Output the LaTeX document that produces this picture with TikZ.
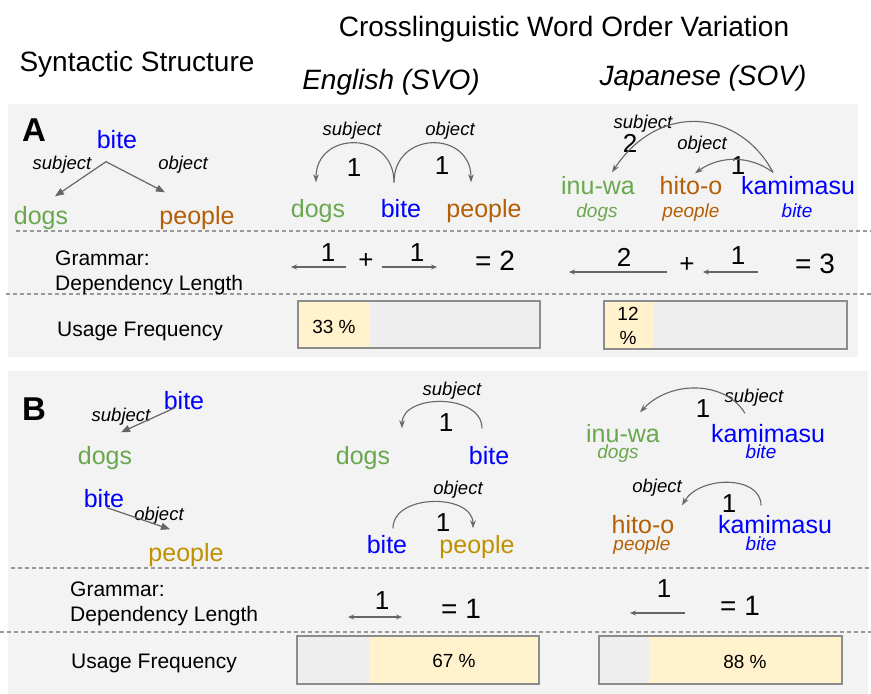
\documentclass[tikz,border=0pt]{standalone}
\usepackage{fontspec}
\setmainfont{Liberation Sans}
\usetikzlibrary{arrows.meta,calc}
\definecolor{panelbg}{HTML}{F3F3F3}
\definecolor{wgreen}{HTML}{6AA84F}
\definecolor{worange}{HTML}{B45F06}
\definecolor{wgold}{HTML}{BF9000}
\definecolor{wblue}{HTML}{0000FF}
\definecolor{arrowgray}{HTML}{666666}
\definecolor{sepgray}{HTML}{999999}
\definecolor{bargray}{HTML}{8C8C8C}
\definecolor{barfill}{HTML}{EEEEEE}
\definecolor{baryellow}{HTML}{FFF2CC}
\newcommand\myfs[1]{\fontsize{#1pt}{#1pt}\selectfont}
\tikzset{
 w/.style={inner sep=0pt, text height=21pt, text depth=2pt, font=\myfs{25}},
 gl/.style={inner sep=0pt, text height=16.7pt, text depth=1pt, font=\myfs{19}\itshape},
 lab/.style={inner sep=0pt, text height=16.3pt, text depth=0.9pt, font=\myfs{18.5}\itshape},
 num/.style={inner sep=0pt, text height=18.7pt, text depth=0pt, font=\myfs{26}},
 eq/.style={inner sep=0pt, text height=20pt, text depth=0pt, font=\myfs{28}},
 ttl/.style={inner sep=0pt, text height=22pt, text depth=4pt, font=\myfs{28}},
 side/.style={inner sep=0pt, anchor=west, align=left, yshift=-3pt, font=\fontsize{21pt}{25.5pt}\selectfont},
 pct/.style={inner sep=0pt, align=center, yshift=-1pt, font=\fontsize{19pt}{24pt}\selectfont},
 panlab/.style={inner sep=0pt, text height=24pt, text depth=0pt, font=\myfs{33}\bfseries},
 tree/.style={draw=arrowgray, line width=1.2pt, -{Triangle[length=9pt,width=7pt]}},
 arc/.style={draw=arrowgray, line width=1.1pt, -{Stealth[length=8pt,width=5.5pt]}},
 dep/.style={draw=arrowgray, line width=1.1pt, -{Stealth[length=6pt,width=5pt]}},
 sep/.style={draw=sepgray, line width=1.2pt, dash pattern=on 4pt off 3pt},
 barbox/.style={draw=bargray, line width=1.2pt},
}
\begin{document}
\begin{tikzpicture}[x=1pt,y=-1pt]
\useasboundingbox (0,0) rectangle (871,694);
\fill[white] (0,0) rectangle (871,694);
% titles
\node[ttl] (tTitle) at (564,27) {Crosslinguistic Word Order Variation};
\node[ttl] (tSyn) at (137,62) {Syntactic Structure};
\node[ttl, font=\myfs{28}\itshape] (tEng) at (391,80) {English (SVO)};
\node[ttl, font=\myfs{28}\itshape] (tJap) at (703,76) {Japanese (SOV)};
% panels
\fill[panelbg] (8,104) rectangle (858,357);
\fill[panelbg] (8,371) rectangle (868,694);
\draw[sep] (16,231) -- (871,231);
\draw[sep] (6,294) -- (871,294);
\draw[sep] (11,568) -- (871,568);
\draw[sep] (0,632) -- (871,632);

% ================= Panel A =================
\node[panlab] (labA) at (34,129) {A};
\node[w, text=wblue] (aBite) at (117,139) {bite};
\node[w, text=wgreen] (aDogs) at (41,215) {dogs};
\node[w, text=worange] (aPeople) at (197,215) {people};
\node[lab] (aSubj) at (62,162) {subject};
\node[lab] (aObj) at (183,162) {object};
\draw[tree] ($(aBite.south)+(-11,11)$) -- ($(aDogs.north)+(14,-7)$);
\draw[tree] ($(aBite.south)+(-11,11)$) -- ($(aPeople.north)+(-32,-11)$);

% English A
\node[w, text=wgreen] (eDogs) at (318,208) {dogs};
\node[w, text=wblue] (eBite) at (401,208) {bite};
\node[w, text=worange] (ePeople) at (484,208) {people};
\node[lab] (eSubj) at (352,128) {subject};
\node[lab] (eObj) at (450,128) {object};
\node[num] (eN1) at (354,167) {1};
\node[num] (eN2) at (442,165) {1};
\draw[arc] ($(eBite.north)+(-7,-14)$) .. controls +(0,-52) and +(0,-52) .. ($(eDogs.north)+(-2,-14)$);
\draw[arc] ($(eBite.north)+(-7,-14)$) .. controls +(0,-52) and +(0,-52) .. ($(ePeople.north)+(-13,-14)$);

% Japanese A
\node[w, text=wgreen] (jInu) at (598,185) {inu-wa};
\node[gl, text=wgreen] (jInuG) at (597,210) {dogs};
\node[w, text=worange] (jHito) at (691,185) {hito-o};
\node[gl, text=worange] (jHitoG) at (691,210) {people};
\node[w, text=wblue] (jKami) at (798,185) {kamimasu};
\node[gl, text=wblue] (jKamiG) at (797,210) {bite};
\node[lab] (jSubj) at (643,121) {subject};
\node[num] (jN2) at (630,143) {2};
\node[lab] (jObj) at (702,142) {object};
\node[num] (jN1) at (738,165) {1};
\draw[arc] ($(jKami.north)+(-25,-1)$) .. controls +(-33,-62) and +(48,-72) .. ($(jInu.north)+(14,-1)$);
\draw[arc] ($(jKami.north)+(-25,-1)$) .. controls +(-23,-17) and +(25,-18) .. ($(jHito.north)+(4,0)$);

% Grammar row A
\node[side] (aGram) at (55,270) {Grammar:\\Dependency Length};
\coordinate (dAe1s) at (346,267); \coordinate (dAe1e) at (291,267);
\coordinate (dAe2s) at (382,267); \coordinate (dAe2e) at (437,267);
\draw[dep] (dAe1s) -- (dAe1e);
\draw[dep] (dAe2s) -- (dAe2e);
\node[num] (dAeN1) at (328,252) {1};
\node[num] (dAePlus) at (366,259) {+};
\node[num] (dAeN2) at (417,252) {1};
\node[eq] (dAeEq) at (495,260) {= 2};
\coordinate (dAj1s) at (667,272); \coordinate (dAj1e) at (569,272);
\coordinate (dAj2s) at (758,272); \coordinate (dAj2e) at (703,272);
\draw[dep] (dAj1s) -- (dAj1e);
\draw[dep] (dAj2s) -- (dAj2e);
\node[num] (dAjN1) at (624,257) {2};
\node[num] (dAjPlus) at (687,263) {+};
\node[num] (dAjN2) at (738,255) {1};
\node[eq] (dAjEq) at (815,263) {= 3};

% Usage row A
\node[side] (aUsage) at (57,328) {Usage Frequency};
\fill[barfill] (298,301) rectangle (540,348);
\fill[baryellow] (298,301) rectangle (370,348);
\draw[barbox] (298,301) rectangle (540,348);
\node[pct] (pAe) at (334,326) {33 \%};
\fill[barfill] (604,301) rectangle (847,349);
\fill[baryellow] (604,301) rectangle (653,349);
\draw[barbox] (604,301) rectangle (847,349);
\node[pct] (pAj) at (628,325) {12\\\%};

% ================= Panel B =================
\node[panlab] (labB) at (34,408) {B};
\node[w, text=wblue] (bBite1) at (184,400) {bite};
\node[w, text=wgreen] (bDogs) at (105,455) {dogs};
\node[lab] (bSubj) at (121,414) {subject};
\draw[tree] ($(bBite1.south)+(-9,-4)$) -- ($(bDogs.north)+(16,-11)$);
\node[w, text=wblue] (bBite2) at (104,498) {bite};
\node[w, text=wgold] (bPeople) at (186,552) {people};
\node[lab] (bObj) at (159,513) {object};
\draw[tree] ($(bBite2.south)+(3,-2)$) -- ($(bPeople.north)+(-16,-11)$);

% English B
\node[w, text=wgreen] (ebDogs) at (363,455) {dogs};
\node[w, text=wblue] (ebBite) at (489,455) {bite};
\node[lab] (ebSubj) at (452,388) {subject};
\node[num] (ebN1) at (446,422) {1};
\draw[arc] ($(ebBite.north)+(-7,-15)$) .. controls +(0,-35) and +(0,-35) .. ($(ebDogs.north)+(39,-15)$);
\node[w, text=wblue] (ebBite2) at (387,544) {bite};
\node[w, text=wgold] (ebPeople) at (477,544) {people};
\node[lab] (ebObj) at (458,487) {object};
\node[num] (ebN2) at (443,522) {1};
\draw[arc] ($(ebBite2.north)+(6,-4)$) .. controls +(0,-35) and +(0,-35) .. ($(ebPeople.north)+(-4,-4)$);

% Japanese B
\node[w, text=wgreen] (jbInu) at (623,433) {inu-wa};
\node[gl, text=wgreen] (jbInuG) at (618,451) {dogs};
\node[w, text=wblue] (jbKami) at (768,433) {kamimasu};
\node[gl, text=wblue] (jbKamiG) at (761,451) {bite};
\node[lab] (jbSubj) at (754,395) {subject};
\node[num] (jbN1) at (703,408) {1};
\draw[arc] ($(jbKami.north)+(-23,-8)$) .. controls +(-20,-33) and +(30,-32) .. ($(jbInu.north)+(17,-9)$);
\node[w, text=worange] (jbHito) at (643,524) {hito-o};
\node[gl, text=worange] (jbHitoG) at (642,543) {people};
\node[w, text=wblue] (jbKami2) at (775,524) {kamimasu};
\node[gl, text=wblue] (jbKami2G) at (761,543) {bite};
\node[lab] (jbObj) at (657,485) {object};
\node[num] (jbN2) at (729,503) {1};
\draw[arc] ($(jbKami2.north)+(-14,-7)$) .. controls +(0,-30) and +(18,-30) .. ($(jbHito.north)+(39,-7)$);

% Grammar row B
\node[side] (bGram) at (70,601) {Grammar:\\Dependency Length};
\coordinate (dBe1s) at (348,617); \coordinate (dBe1e) at (402,617);
\draw[dep, {Stealth[length=6pt,width=5pt]}-{Stealth[length=6pt,width=5pt]}] (dBe1s) -- (dBe1e);
\node[num] (dBeN1) at (382,600) {1};
\node[eq] (dBeEq) at (461,608) {= 1};
\coordinate (dBj1s) at (685,613); \coordinate (dBj1e) at (630,613);
\draw[dep] (dBj1s) -- (dBj1e);
\node[num] (dBjN1) at (664,588) {1};
\node[eq] (dBjEq) at (740,605) {= 1};

% Usage row B
\node[side] (bUsage) at (71,660) {Usage Frequency};
\fill[baryellow] (297,636) rectangle (539,684);
\fill[barfill] (297,636) rectangle (370,684);
\draw[barbox] (297,636) rectangle (539,684);
\node[pct] (pBe) at (454,660) {67 \%};
\fill[baryellow] (599,636) rectangle (842,684);
\fill[barfill] (599,636) rectangle (649,684);
\draw[barbox] (599,636) rectangle (842,684);
\node[pct] (pBj) at (745,661) {88 \%};
\end{tikzpicture}
\end{document}
